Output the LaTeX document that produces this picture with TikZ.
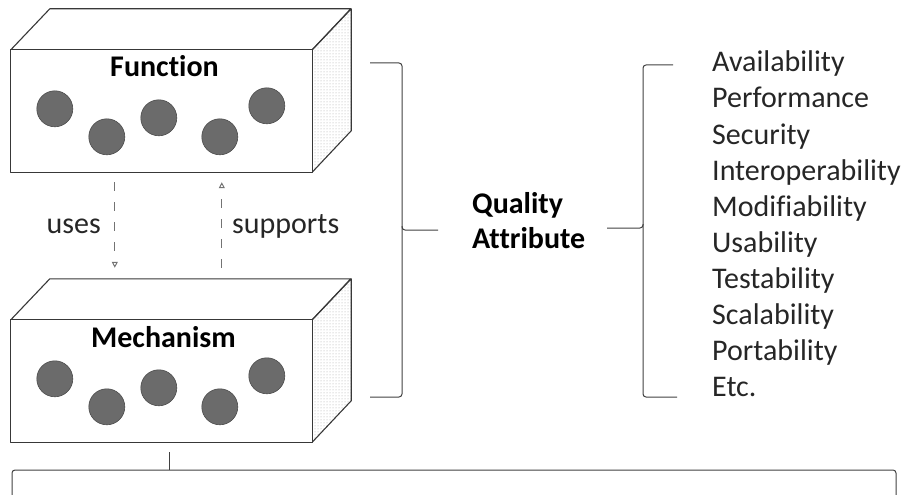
\documentclass[tikz,border=0pt]{standalone}
\usepackage{fontspec}
\setmainfont{Carlito}[RawFeature={-liga}]
\usetikzlibrary{arrows.meta,patterns,calc}

\begin{document}
\begin{tikzpicture}[x=1pt,y=-1pt,
  edge/.style={draw=black!78, line width=1.1pt, line join=round},
  topface/.style={edge, fill=white},
  sideface/.style={edge, pattern=dots, pattern color=black!35},
  ball/.style={circle, fill=black!58, draw=black!70, line width=0.6pt,
    minimum size=36pt, inner sep=0pt},
  layer/.style={draw=none, minimum width=301pt, minimum height=122pt, inner sep=0pt},
  title/.style={font=\bfseries\fontsize{30}{30}\selectfont, anchor=base},
  plain/.style={font=\fontsize{30}{30}\selectfont, text=black!85, inner sep=0pt},
  flow/.style={draw=black!55, line width=1pt, dash pattern=on 9pt off 11pt,
    -{Triangle[open,length=6pt,width=6pt]}},
  brace/.style={draw=black!75, line width=1pt, rounded corners=3pt},
]
\useasboundingbox (0,0) rectangle (906,495);

% the two layers, drawn as boxes in perspective
\foreach \nm/\yc in {fn/111, mech/381} {
  \node[layer] (\nm) at (161.5,\yc) {};
  \draw[topface] (\nm.north west) -- ++(39,-41) -- ++(301,0) -- (\nm.north east) -- cycle;
  \draw[sideface] (\nm.north east) -- ++(39,-41) -- ++(0,122) -- (\nm.south east) -- cycle;
  \draw[edge, fill=white] (\nm.north west) rectangle (\nm.south east);
  \foreach \k/\dx/\dy in {1/44/59, 2/96/87, 3/148/68, 4/209/87, 5/256/56}
    \node[ball] (\nm b\k) at ($(\nm.north west)+(\dx,\dy)$) {};
}
\node[title] (fntitle) at ($(fn.north)+(3,27)$) {Function};
\node[title] (mechtitle) at ($(mech.north)+(2,28)$) {Mechanism};

% uses / supports
\coordinate (usetop) at ($(fn.south west)+(104,10)$);
\coordinate (usebot) at ($(mech.north west)+(104,-52)$);
\coordinate (suptop) at ($(fn.south west)+(211,10)$);
\coordinate (supbot) at ($(mech.north west)+(211,-52)$);
\draw[flow] (usetop) -- (usebot);
\draw[flow] (supbot) -- (suptop);
\node[plain, anchor=base east] (uses) at (101,233) {uses};
\node[plain, anchor=base west] (supports) at (232,233) {supports};

% quality attribute braces
\node[font=\bfseries\fontsize{30}{35}\selectfont, align=left, anchor=north west, inner sep=0pt]
  (qa) at (472,192) {Quality\\Attribute};
\coordinate (rb1) at (370,63);
\coordinate (rb2) at (370,397);
\coordinate (rbtip) at (438,230);
\draw[brace] (rb1) -- (402,63) -- (402,230) -- (rbtip);
\draw[brace] (402,226) -- (402,397) -- (rb2);

\coordinate (lb1) at (673,65);
\coordinate (lb2) at (677,397);
\coordinate (lbtip) at (607,228);
\draw[brace] (lb1) -- (643,65) -- (643,228) -- (lbtip);
\draw[brace] (643,224) -- (643,397) -- (lb2);

% attribute list
\foreach \i/\t in {0/Availability, 1/Performance, 2/Security, 3/Interoperability,
  4/Modifiability, 5/Usability, 6/Testability, 7/Scalability, 8/Portability, 9/Etc.}
  \node[plain, anchor=base west] (attr\i) at (712,{72+36*\i}) {\t};

% bottom brace under the mechanism layer
\coordinate (bbtip) at ($(mech.south west)+(159,10)$);
\draw[brace] (12,496) -- (12,470) -- (896,470) -- (896,496);
\draw[brace] (bbtip) -- (bbtip|-0,470);
\end{tikzpicture}
\end{document}
